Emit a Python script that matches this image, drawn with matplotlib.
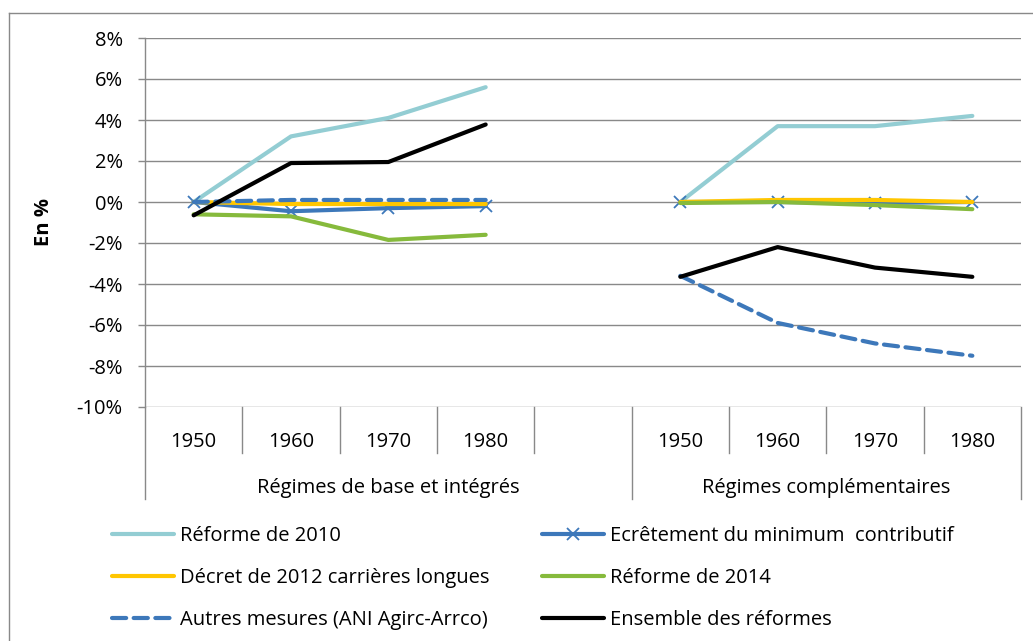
import numpy as np
import matplotlib
matplotlib.use("Agg")
import matplotlib.pyplot as plt
import matplotlib.transforms as mtransforms

plt.rcParams["font.family"] = ["Open Sans", "DejaVu Sans"]

# ======================
# DATA (en %)
# ======================
years = ["1950", "1960", "1970", "1980"]
groups = ["Régimes de base et intégrés", "Régimes complémentaires"]

reforme_2010_base = [0.0, 3.2, 4.1, 5.6]
reforme_2010_comp = [0.0, 3.7, 3.7, 4.2]

ecretement_base = [0.0, -0.45, -0.3, -0.2]
ecretement_comp = [0.0, 0.0, -0.05, 0.0]

decret_2012_base = [0.0, -0.1, -0.1, -0.1]
decret_2012_comp = [0.0, 0.1, 0.1, 0.0]

reforme_2014_base = [-0.6, -0.7, -1.85, -1.6]
reforme_2014_comp = [-0.05, 0.0, -0.15, -0.35]

autres_base = [0.0, 0.1, 0.1, 0.1]
autres_comp = [-3.6, -5.9, -6.9, -7.5]

ensemble_base = [-0.65, 1.9, 1.95, 3.78]
ensemble_comp = [-3.65, -2.2, -3.2, -3.65]

y_ticks = [8, 6, 4, 2, 0, -2, -4, -6, -8, -10]

# categories: 4 years, one empty slot, 4 years
cat_labels = years + [""] + years
x = np.arange(len(cat_labels))


def serie(base, comp):
    return np.array(base + [np.nan] + comp, dtype=float)


FS = 14.5

# ======================
# FIGURE
# ======================
W, H = 1033, 641
fig = plt.figure(figsize=(W / 100, H / 100), dpi=100)

px_l, px_r, px_t, px_b = 145, 1021, 38, 407
ax = fig.add_axes([px_l / W, 1 - px_b / H, (px_r - px_l) / W, (px_b - px_t) / H])

grid_col = "#898989"

# outer frame (cropped on the right/bottom)
fig.add_artist(plt.Line2D([9 / W, 1], [1 - 13 / H, 1 - 13 / H], color=grid_col, lw=1.0))
fig.add_artist(plt.Line2D([9 / W, 9 / W], [0, 1 - 13 / H], color=grid_col, lw=1.0))

ax.set_xlim(-0.5, len(cat_labels) - 0.5)
ax.set_ylim(-10, 8)

for v in y_ticks:
    ax.axhline(v, color=grid_col, lw=1.0, zorder=1)

# ----------------------
# series
# ----------------------
ax.plot(x, serie(reforme_2010_base, reforme_2010_comp), color="#93CDD3", lw=3,
        solid_capstyle="round", solid_joinstyle="round", label="Réforme de 2010", zorder=3)
ax.plot(x, serie(ecretement_base, ecretement_comp), color="#3D78BA", lw=3,
        marker="x", ms=9, mew=1.3, solid_capstyle="round", solid_joinstyle="round",
        label="Ecrêtement du minimum  contributif", zorder=3)
ax.plot(x, serie(decret_2012_base, decret_2012_comp), color="#FFC600", lw=3,
        solid_capstyle="round", solid_joinstyle="round",
        label="Décret de 2012 carrières longues", zorder=3)
ax.plot(x, serie(reforme_2014_base, reforme_2014_comp), color="#86BA3C", lw=3,
        solid_capstyle="round", solid_joinstyle="round", label="Réforme de 2014", zorder=3)
ax.plot(x, serie(autres_base, autres_comp), color="#3D78BA", lw=3, dashes=(3.4, 1.8),
        dash_capstyle="round", label="Autres mesures (ANI Agirc-Arrco)", zorder=3)
ax.plot(x, serie(ensemble_base, ensemble_comp), color="black", lw=3,
        solid_capstyle="round", solid_joinstyle="round", label="Ensemble des réformes", zorder=3)

# ----------------------
# axes styling
# ----------------------
for s in ["top", "right", "bottom"]:
    ax.spines[s].set_visible(False)
ax.spines["left"].set_color(grid_col)
ax.spines["left"].set_linewidth(1.0)

ax.set_yticks(y_ticks)
ax.set_yticklabels(["%d%%" % v for v in y_ticks], fontsize=FS)
ax.tick_params(axis="y", direction="out", length=5, width=1.0, color=grid_col, pad=11)
ax.set_xticks([])
ax.set_ylabel("En %", fontsize=FS, fontweight="bold", labelpad=16)

# category axis (two levels)
trans = mtransforms.blended_transform_factory(ax.transData, ax.transAxes)
plot_h = px_b - px_t
short = -(453 - px_b) / plot_h
long_ = -(499 - px_b) / plot_h
for i in range(len(cat_labels) + 1):
    xb = i - 0.5
    low = long_ if i in (0, 5, len(cat_labels)) else short
    ax.plot([xb, xb], [0, low], color=grid_col, lw=1.0, transform=trans, clip_on=False)

for i, lab in enumerate(cat_labels):
    ax.text(i, -(442 - px_b) / plot_h, lab, transform=trans, ha="center", va="center", fontsize=FS)

ax.text((-0.5 + 4.5) / 2, -(488 - px_b) / plot_h, groups[0], transform=trans,
        ha="center", va="center", fontsize=FS)
ax.text((4.5 + 8.5) / 2, -(488 - px_b) / plot_h, groups[1], transform=trans,
        ha="center", va="center", fontsize=FS)

# ----------------------
# legend (two columns)
# ----------------------
h, l = ax.get_legend_handles_labels()
left = [0, 2, 4]
right = [1, 3, 5]
leg_kw = dict(frameon=False, fontsize=FS, handlelength=3.08, handletextpad=0.3,
              labelspacing=1.1, borderpad=0, borderaxespad=0, loc="upper left")
fig.legend([h[i] for i in left], [l[i] for i in left],
           bbox_to_anchor=(112 / W, 1 - 526 / H), **leg_kw)
fig.legend([h[i] for i in right], [l[i] for i in right],
           bbox_to_anchor=(542 / W, 1 - 526 / H), **leg_kw)

fig.savefig("out.png", dpi=100)
